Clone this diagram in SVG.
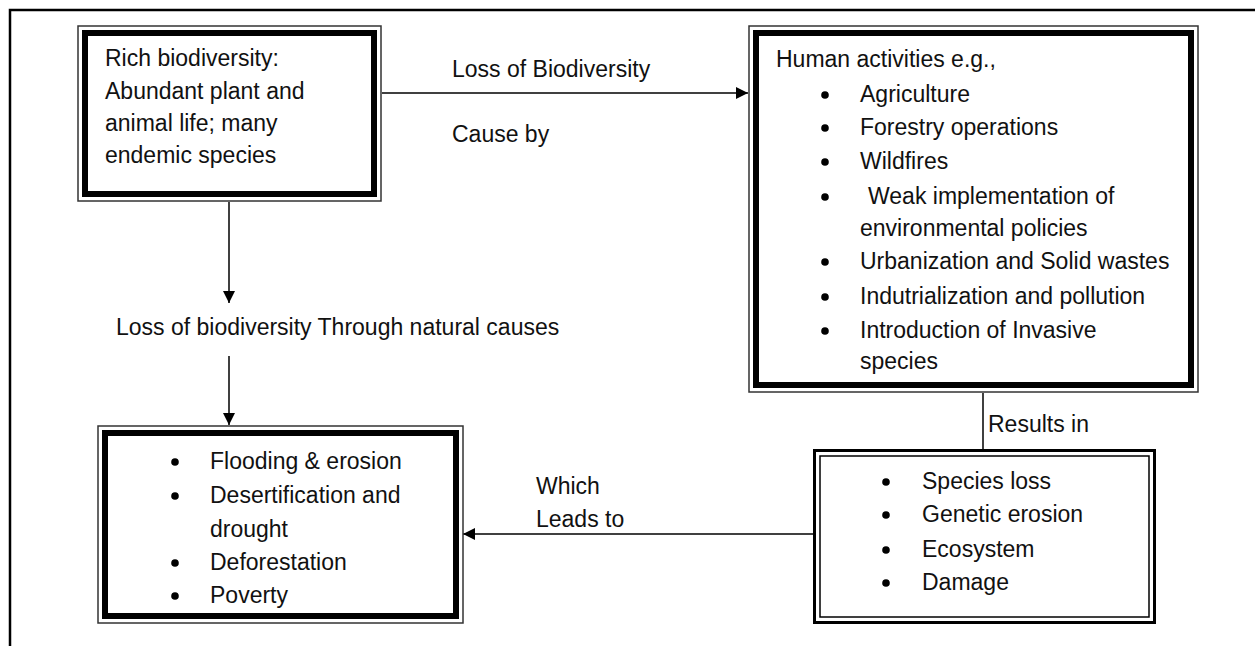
<svg xmlns="http://www.w3.org/2000/svg" width="1255" height="646" viewBox="0 0 1255 646">
<style>
text{font-family:"Liberation Sans",Arial,sans-serif;font-size:23px;fill:#111}
.thin{fill:none;stroke:#333;stroke-width:1.5}
.thick{fill:none;stroke:#000;stroke-width:6}
.c{fill:none;stroke:#000;stroke-width:1.5}
.b{fill:#000}
</style>
<defs>
<marker id="ah" markerUnits="userSpaceOnUse" markerWidth="13" markerHeight="12" refX="12" refY="6" orient="auto">
<path d="M0,0 L12,6 L0,12 z" fill="#000"/>
</marker>
</defs>
<rect width="1255" height="646" fill="#fff"/>
<path d="M10 660 V10 H1262" fill="none" stroke="#000" stroke-width="2.5"/>

<g id="connectors">
<path class="c" d="M382 93 H748" marker-end="url(#ah)"/>
<path class="c" d="M229 202 V303" marker-end="url(#ah)"/>
<path class="c" d="M229 356 V425" marker-end="url(#ah)"/>
<path class="c" d="M983 393 V449"/>
<path class="c" d="M813 534 H463" marker-end="url(#ah)"/>
<text x="452" y="77">Loss of Biodiversity</text>
<text x="452" y="142">Cause by</text>
<text x="116" y="335">Loss of biodiversity Through natural causes</text>
<text x="988" y="432">Results in</text>
<text x="536" y="494">Which</text>
<text x="536" y="527">Leads to</text>
</g>

<g id="rich">
<rect class="thin" x="78" y="26" width="303" height="175" fill="#fff"/>
<rect class="thick" x="85" y="33" width="289" height="161"/>
<text x="105" y="66">Rich biodiversity:</text>
<text x="105" y="99">Abundant plant and</text>
<text x="105" y="131">animal life; many</text>
<text x="105" y="163">endemic species</text>
</g>

<g id="human">
<rect class="thin" x="749" y="26" width="449" height="366"/>
<rect class="thick" x="756" y="33" width="435" height="352"/>
<text x="776" y="67">Human activities e.g.,</text>
<circle class="b" cx="825" cy="95" r="3.8"/>
<text x="860" y="102">Agriculture</text>
<circle class="b" cx="825" cy="128" r="3.8"/>
<text x="860" y="135">Forestry operations</text>
<circle class="b" cx="825" cy="162" r="3.8"/>
<text x="860" y="169">Wildfires</text>
<circle class="b" cx="825" cy="197" r="3.8"/>
<text x="868" y="204">Weak implementation of</text>
<text x="860" y="236">environmental policies</text>
<circle class="b" cx="825" cy="262" r="3.8"/>
<text x="860" y="269">Urbanization and Solid wastes</text>
<circle class="b" cx="825" cy="297" r="3.8"/>
<text x="860" y="304">Indutrialization and pollution</text>
<circle class="b" cx="825" cy="331" r="3.8"/>
<text x="860" y="338">Introduction of Invasive</text>
<text x="860" y="369">species</text>
</g>

<g id="natural">
<rect class="thin" x="98" y="426" width="365" height="197"/>
<rect class="thick" x="105" y="433" width="351" height="183"/>
<circle class="b" cx="175" cy="462" r="3.8"/>
<text x="210" y="469">Flooding &amp; erosion</text>
<circle class="b" cx="175" cy="496" r="3.8"/>
<text x="210" y="503">Desertification and</text>
<text x="210" y="537">drought</text>
<circle class="b" cx="175" cy="563" r="3.8"/>
<text x="210" y="570">Deforestation</text>
<circle class="b" cx="175" cy="596" r="3.8"/>
<text x="210" y="603">Poverty</text>
</g>

<g id="results">
<rect x="814.5" y="450.5" width="340" height="172" fill="none" stroke="#000" stroke-width="3"/>
<rect x="820" y="456" width="329" height="161" fill="none" stroke="#000" stroke-width="1.5"/>
<circle class="b" cx="886" cy="482" r="3.8"/>
<text x="922" y="489">Species loss</text>
<circle class="b" cx="886" cy="515" r="3.8"/>
<text x="922" y="522">Genetic erosion</text>
<circle class="b" cx="886" cy="550" r="3.8"/>
<text x="922" y="557">Ecosystem</text>
<circle class="b" cx="886" cy="583" r="3.8"/>
<text x="922" y="590">Damage</text>
</g>
</svg>
